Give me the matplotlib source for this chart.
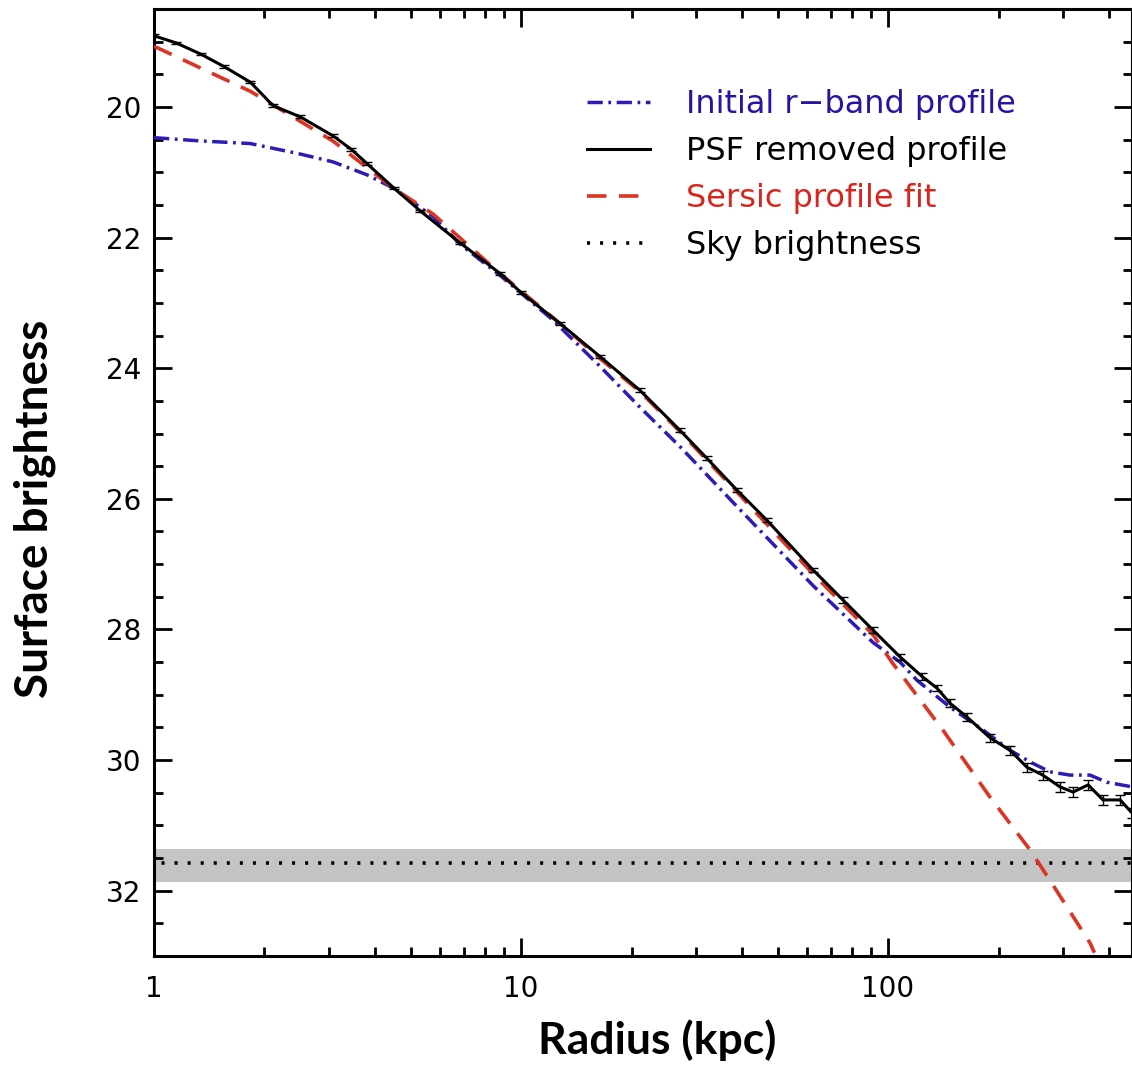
import numpy as np
import matplotlib.pyplot as plt
from matplotlib.ticker import FixedLocator, NullFormatter

plt.rcParams['lines.scale_dashes'] = False
plt.rcParams['font.family'] = ['DejaVu Sans']

# PSF removed profile (black, with error bars)
psf_r = [1.0, 1.15, 1.34, 1.55, 1.83, 2.11, 2.5, 3.07, 3.45, 3.81, 4.5, 5.31,
         6.82, 8.77, 10.0, 12.8, 16.4, 21.1, 27.1, 32.1, 38.8, 46.8, 62.5,
         75.4, 91.0, 107.8, 123.8, 136, 147.5, 164, 189.7, 215, 239, 264, 294,
         319, 351, 385, 429, 462]
psf_mu = [18.91, 19.02, 19.19, 19.38, 19.62, 19.98, 20.15, 20.44, 20.65, 20.87,
          21.24, 21.59, 22.08, 22.55, 22.84, 23.32, 23.82, 24.34, 24.95, 25.38,
          25.87, 26.33, 27.09, 27.55, 28.01, 28.42, 28.72, 28.90, 29.13, 29.34,
          29.66, 29.85, 30.11, 30.23, 30.41, 30.49, 30.38, 30.61, 30.61, 30.81]
psf_err = [0.02, 0.02, 0.02, 0.02, 0.02, 0.02, 0.02, 0.02, 0.02, 0.02,
           0.02, 0.02, 0.02, 0.02, 0.02, 0.02, 0.02, 0.03, 0.03, 0.03,
           0.03, 0.03, 0.03, 0.04, 0.04, 0.05, 0.05, 0.05, 0.06, 0.06,
           0.06, 0.07, 0.07, 0.07, 0.08, 0.08, 0.08, 0.08, 0.08, 0.08]

# initial r-band profile (blue dash-dot)
init_r = [1.0, 1.335, 1.83, 2.5, 3.07, 3.81, 4.48, 5.76, 6.82, 8.77, 12.2, 16.4,
          21.1, 27.1, 38.8, 62.5, 91.0, 107.8, 120, 147.5, 181.5, 215, 244,
          276, 313, 355, 395, 462]
init_mu = [20.47, 20.52, 20.56, 20.72, 20.84, 21.04, 21.24, 21.68, 22.10, 22.58,
           23.26, 23.97, 24.60, 25.20, 26.12, 27.33, 28.20, 28.50, 28.78, 29.19,
           29.54, 29.85, 30.03, 30.18, 30.23, 30.23, 30.34, 30.41]

# Sersic fit (red dashed)
sersic_r = [1.0, 1.83, 3.07, 4.48, 5.76, 8.77, 12.8, 16.4, 21.1, 27.1, 38.8,
            62.5, 91.0, 103, 141, 189.7, 244, 276, 355, 365]
sersic_mu = [19.07, 19.76, 20.52, 21.24, 21.64, 22.55, 23.32, 23.85, 24.36,
             24.97, 25.90, 27.15, 28.08, 28.52, 29.54, 30.57, 31.38, 31.84,
             32.80, 32.95]

# sky brightness and its uncertainty band
sky_mu = 31.575
sky_lo, sky_hi = 31.36, 31.87

W, H = 1132, 1071
fig = plt.figure(figsize=(W / 100, H / 100), dpi=100)
ax = fig.add_axes([154 / W, (H - 956) / H, (1132 - 154) / W, (956 - 9) / H])

ax.axhspan(sky_lo, sky_hi, color='#c4c4c4', lw=0, zorder=1)
l_sky, = ax.plot([0.5, 1000], [sky_mu, sky_mu], color='black', lw=2.6,
                 dashes=[2.2, 7.2], zorder=2, label='Sky brightness')
l_init, = ax.plot(init_r, init_mu, color='#2b1cb8', lw=2.5,
                  dashes=[11, 4, 2, 4], zorder=3, label='Initial r\u2212band profile')
l_ser, = ax.plot(sersic_r, sersic_mu, color='#dd3322', lw=2.6,
                 dashes=[14, 9], zorder=4, label='Sersic profile fit')
l_psf, = ax.plot(psf_r, psf_mu, color='black', lw=2.2, zorder=5,
                 label='PSF removed profile')
ax.errorbar(psf_r, psf_mu, yerr=psf_err, fmt='none', ecolor='black',
            elinewidth=1.0, capsize=3.5, capthick=1.0, zorder=5)

ax.set_xscale('log')
ax.set_xlim(1, 462)
ax.set_ylim(33, 18.5)

ax.xaxis.set_major_locator(FixedLocator([1, 10, 100]))
ax.xaxis.set_minor_locator(FixedLocator([m * 10 ** e for e in range(3) for m in range(2, 10)]))
ax.xaxis.set_minor_formatter(NullFormatter())
ax.set_xticklabels(['1', '10', '100'])
ax.set_yticks([20, 22, 24, 26, 28, 30, 32])
ax.yaxis.set_minor_locator(FixedLocator(np.arange(18.5, 33.01, 0.5)))

ax.tick_params(which='both', direction='in', top=True, right=True, width=2.0,
               labelsize=20)
ax.tick_params(which='major', length=13)
ax.tick_params(which='minor', length=6.5)
ax.tick_params(axis='x', pad=14)
ax.tick_params(axis='y', pad=9)
for s in ax.spines.values():
    s.set_linewidth(2.2)

ax.legend(handles=[l_init, l_psf, l_ser, l_sky], frameon=False,
          loc='upper left', bbox_to_anchor=(0.443, 0.915), borderaxespad=0,
          borderpad=0, fontsize=23, handlelength=1.95, handletextpad=1.15,
          labelspacing=0.5,
          labelcolor=['#2b12a6', 'black', '#d8251d', 'black'])

fig.text(657 / W, 1 - 1040 / H, 'Radius (kpc)', ha='center', va='center',
         fontsize=32, fontweight='bold', family='Lato')
fig.text(35 / W, 1 - 509 / H, 'Surface brightness', ha='center', va='center',
         rotation=90, fontsize=33, fontweight='bold', family='Lato')

fig.savefig('out.png', dpi=100)
